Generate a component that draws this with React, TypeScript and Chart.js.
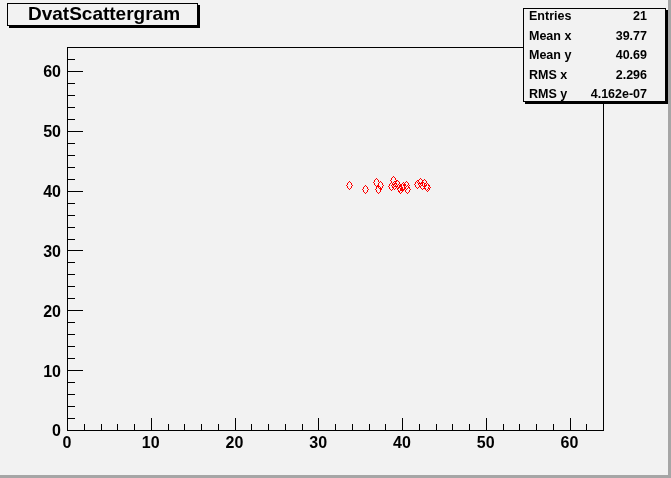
import React, { useEffect, useRef } from "react";
import { Chart, registerables } from "chart.js";

Chart.register(...registerables);

const titleText = "DvatScattergram";
const xTickValues = [0, 10, 20, 30, 40, 50, 60];
const yTickValues = [0, 10, 20, 30, 40, 50, 60];
const axisMin = 0;
const axisMax = 64;
const minorStep = 2;

const pointX = [
  33.79, 35.7, 37.01, 37.43, 37.25, 38.93, 38.69, 39.16, 39.52, 39.76, 39.88,
  40.0, 40.12, 40.48, 40.6, 41.91, 42.15, 42.39, 42.63, 42.87, 43.1,
];
const pointY = [
  40.78, 40.27, 41.44, 40.78, 40.11, 41.61, 40.61, 40.78, 40.94, 40.44, 40.27,
  40.44, 40.61, 40.78, 40.11, 40.94, 41.28, 40.78, 41.11, 40.61, 40.44,
];

const statsLabels = ["Entries", "Mean x", "Mean y", "RMS x", "RMS y"];
const statsValues = ["21", "39.77", "40.69", "2.296", "4.162e-07"];

const BG = "#f2f2f2";
const FONT = "'Liberation Sans', Arial, Helvetica, sans-serif";

function makeDiamond(): HTMLCanvasElement {
  const c = document.createElement("canvas");
  c.width = 7;
  c.height = 9;
  const g = c.getContext("2d")!;
  g.fillStyle = "#ff0000";
  const hws = [0, 1, 2, 2, 3, 2, 2, 1, 0];
  for (let r = 0; r < hws.length; r++) {
    const hw = hws[r];
    g.fillRect(3 - hw, r, 1, 1);
    g.fillRect(3 + hw, r, 1, 1);
  }
  return c;
}

const rootPlugin = {
  id: "rootStyle",
  beforeDraw(chart: any) {
    const ctx = chart.ctx;
    const W = chart.width;
    const H = chart.height;
    ctx.save();
    ctx.fillStyle = BG;
    ctx.fillRect(0, 0, W, H);
    ctx.fillStyle = "#a6a6a6";
    ctx.fillRect(0, H - 3, W, 3);
    ctx.fillRect(W - 3, 0, 3, H);
    ctx.restore();
  },
  beforeDatasetsDraw(chart: any) {
    const ctx = chart.ctx;
    const { left, right, top, bottom } = chart.chartArea;
    const xs = chart.scales.x;
    const ys = chart.scales.y;
    ctx.save();
    ctx.strokeStyle = "#000";
    ctx.lineWidth = 1;
    ctx.beginPath();
    for (let v = axisMin; v <= axisMax; v += minorStep) {
      const major = v % 10 === 0;
      const px = Math.round(xs.getPixelForValue(v)) + 0.5;
      const lx = major ? 12 : 6;
      ctx.moveTo(px, bottom);
      ctx.lineTo(px, bottom - lx);
      const py = Math.round(ys.getPixelForValue(v)) + 0.5;
      const ly = major ? 16 : 8;
      ctx.moveTo(left, py);
      ctx.lineTo(left + ly, py);
    }
    ctx.stroke();
    ctx.strokeRect(Math.round(left) + 0.5, Math.round(top) + 0.5, Math.round(right - left), Math.round(bottom - top));
    ctx.restore();
    ctx.imageSmoothingEnabled = false;
  },
  afterDraw(chart: any) {
    const ctx = chart.ctx;
    ctx.save();
    // Title box
    ctx.fillStyle = "#000";
    ctx.fillRect(9, 26, 191, 2);
    ctx.fillRect(198, 5, 2, 23);
    ctx.fillStyle = BG;
    ctx.fillRect(7, 3, 191, 23);
    ctx.strokeStyle = "#000";
    ctx.lineWidth = 1;
    ctx.strokeRect(7.5, 3.5, 190, 22);
    ctx.fillStyle = "#000";
    ctx.font = `bold 19px ${FONT}`;
    ctx.textAlign = "center";
    ctx.textBaseline = "middle";
    ctx.fillText(titleText, 104, 15);

    // Stats box
    const bx = 523, by = 8, bw = 143, bh = 94;
    ctx.fillStyle = "#000";
    ctx.fillRect(bx + 2, by + bh, bw, 2);
    ctx.fillRect(bx + bw, by + 2, 2, bh);
    ctx.fillStyle = BG;
    ctx.fillRect(bx, by, bw, bh);
    ctx.strokeRect(bx + 0.5, by + 0.5, bw - 1, bh - 1);
    ctx.font = `bold 12.5px ${FONT}`;
    ctx.fillStyle = "#000";
    const rowY = [17, 36.5, 56, 75.5, 95];
    statsLabels.forEach((lab, i) => {
      ctx.textAlign = "left";
      ctx.fillText(lab, 529, rowY[i]);
      ctx.textAlign = "right";
      ctx.fillText(statsValues[i], 647, rowY[i]);
    });
    ctx.restore();
  },
};

export default function App() {
  const ref = useRef<HTMLCanvasElement>(null);
  useEffect(() => {
    document.body.style.margin = "0";
    const diamond = makeDiamond();
    const chart = new Chart(ref.current!, {
      type: "scatter",
      data: {
        datasets: [
          {
            data: pointX.map((x, i) => ({ x, y: pointY[i] })),
            pointStyle: diamond as any,
            pointRadius: 5,
            borderColor: "#ff0000",
            backgroundColor: "#ff0000",
          },
        ],
      },
      options: {
        responsive: false,
        animation: false,
        events: [],
        layout: { padding: { left: 0, top: 47, right: 68, bottom: 0 } },
        plugins: { legend: { display: false }, tooltip: { enabled: false } },
        scales: {
          x: {
            type: "linear",
            min: axisMin,
            max: axisMax,
            border: { display: false },
            grid: { display: false, tickLength: 0, drawTicks: false },
            afterBuildTicks: (s: any) => {
              s.ticks = xTickValues.map((v) => ({ value: v }));
            },
            afterFit: (s: any) => {
              s.height = 48;
            },
            ticks: {
              color: "#000",
              padding: 4,
              maxRotation: 0,
              autoSkip: false,
              font: { family: FONT, size: 16, weight: "bold" },
            },
          },
          y: {
            type: "linear",
            min: axisMin,
            max: axisMax,
            border: { display: false },
            grid: { display: false, tickLength: 0, drawTicks: false },
            afterBuildTicks: (s: any) => {
              s.ticks = yTickValues.map((v) => ({ value: v }));
            },
            afterFit: (s: any) => {
              s.width = 67;
            },
            ticks: {
              color: "#000",
              padding: 6,
              labelOffset: 2,
              autoSkip: false,
              font: { family: FONT, size: 16, weight: "bold" },
            },
          },
        },
      },
      plugins: [rootPlugin],
    });
    return () => chart.destroy();
  }, []);
  return (
    <div style={{ position: "absolute", left: 0, top: 0, width: 671, height: 478 }}>
      <canvas ref={ref} width={671} height={478} />
    </div>
  );
}
